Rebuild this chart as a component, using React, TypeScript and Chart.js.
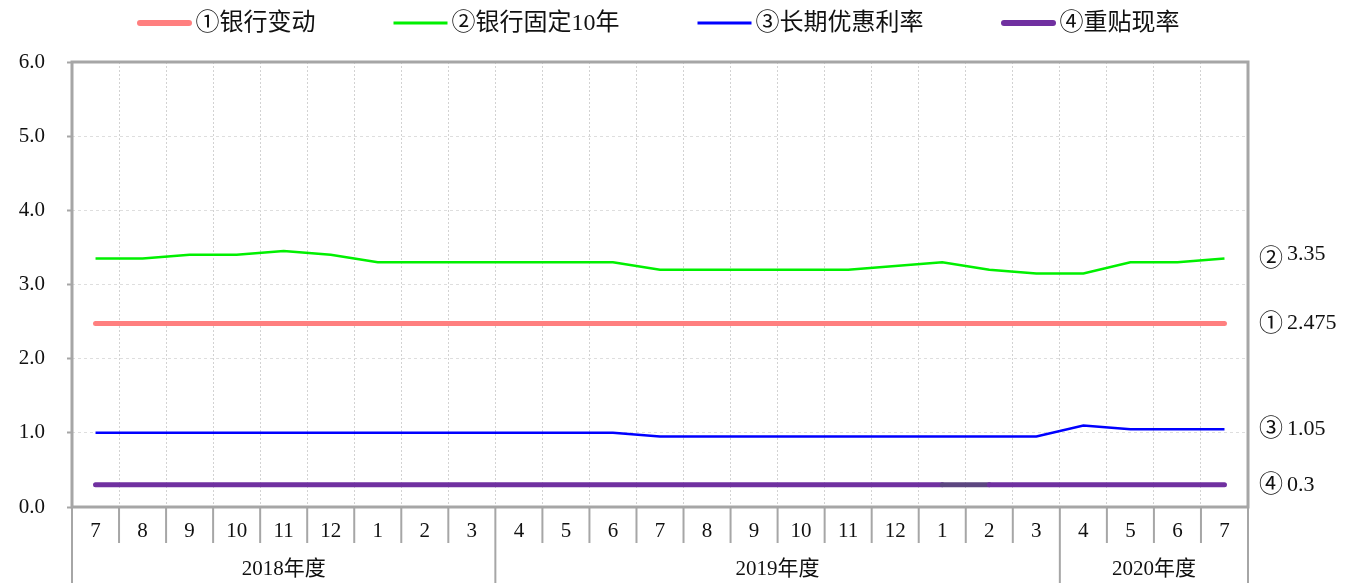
import React, { useEffect, useRef } from 'react';
import { Chart, registerables } from 'chart.js';

Chart.register(...registerables);

// ---- data ----
const months = ['7', '8', '9', '10', '11', '12', '1', '2', '3', '4', '5', '6', '7', '8', '9', '10', '11', '12', '1', '2', '3', '4', '5', '6', '7'];
const fiscalYears = ['2018年度', '2019年度', '2020年度'];
const fiscalYearSpans = [9, 12, 4];
const seriesNames = ['①银行变动', '②银行固定10年', '③长期优惠利率', '④重贴现率'];
const bankVariable = [2.475, 2.475, 2.475, 2.475, 2.475, 2.475, 2.475, 2.475, 2.475, 2.475, 2.475, 2.475, 2.475, 2.475, 2.475, 2.475, 2.475, 2.475, 2.475, 2.475, 2.475, 2.475, 2.475, 2.475, 2.475];
const bankFixed10 = [3.35, 3.35, 3.4, 3.4, 3.45, 3.4, 3.3, 3.3, 3.3, 3.3, 3.3, 3.3, 3.2, 3.2, 3.2, 3.2, 3.2, 3.25, 3.3, 3.2, 3.15, 3.15, 3.3, 3.3, 3.35];
const longPrime = [1.0, 1.0, 1.0, 1.0, 1.0, 1.0, 1.0, 1.0, 1.0, 1.0, 1.0, 1.0, 0.95, 0.95, 0.95, 0.95, 0.95, 0.95, 0.95, 0.95, 0.95, 1.1, 1.05, 1.05, 1.05];
const discountRate = [0.3, 0.3, 0.3, 0.3, 0.3, 0.3, 0.3, 0.3, 0.3, 0.3, 0.3, 0.3, 0.3, 0.3, 0.3, 0.3, 0.3, 0.3, 0.3, 0.3, 0.3, 0.3, 0.3, 0.3, 0.3];
const endMarkers = ['①', '②', '③', '④'];
const endValueLabels = ['2.475', '3.35', '1.05', '0.3'];
const yMin = 0;
const yMax = 6;
const yStep = 1;

const SERIF = "'Liberation Serif', 'Noto Sans CJK SC', serif";
const AXIS_GRAY = '#a6a6a6';

const legendPlugin = {
  id: 'customLegend',
  afterDraw(chart: any) {
    const ctx = chart.ctx;
    ctx.save();
    ctx.font = `24px ${SERIF}`;
    const lineLen = 54;
    const gapTxt = 4;
    const gapItem = 78;
    const items = chart.data.datasets.map((ds: any) => ({ ds, w: ctx.measureText(ds.label).width }));
    const total = items.reduce((a: number, it: any) => a + lineLen + gapTxt + it.w, 0) + gapItem * (items.length - 1);
    let x = (chart.width - total) / 2 - 15;
    const y = 23;
    for (const it of items) {
      const lw = it.ds.borderWidth;
      const round = lw > 3;
      ctx.strokeStyle = it.ds.borderColor;
      ctx.lineWidth = round ? lw + 1 : lw + 0.5;
      ctx.lineCap = round ? 'round' : 'butt';
      ctx.beginPath();
      ctx.moveTo(x + (round ? lw / 2 : 0), y);
      ctx.lineTo(x + lineLen - (round ? lw / 2 : 0), y);
      ctx.stroke();
      ctx.fillStyle = '#111';
      ctx.textBaseline = 'middle';
      ctx.textAlign = 'left';
      ctx.fillText(it.ds.label, x + lineLen + gapTxt, y + 1);
      x += lineLen + gapTxt + it.w + gapItem;
    }
    ctx.restore();
  },
};

const framePlugin = {
  id: 'frameAndGroups',
  afterDraw(chart: any) {
    const ctx = chart.ctx;
    const { left, right, top, bottom } = chart.chartArea;
    const xs = chart.scales.x;
    const ys = chart.scales.y;
    ctx.save();
    // plot frame
    ctx.strokeStyle = AXIS_GRAY;
    ctx.lineWidth = 3;
    ctx.strokeRect(left, top, right - left, bottom - top);
    // category separators
    const n = months.length;
    const groupEdges = new Set<number>();
    let acc = 0;
    groupEdges.add(0);
    fiscalYearSpans.forEach((s) => { acc += s; groupEdges.add(acc); });
    ctx.lineWidth = 2;
    for (let i = 0; i <= n; i++) {
      const x = xs.getPixelForValue(i - 0.5);
      const yEnd = groupEdges.has(i) ? chart.height : bottom + 36;
      ctx.beginPath();
      ctx.moveTo(x, bottom);
      ctx.lineTo(x, yEnd);
      ctx.stroke();
    }
    // group labels
    ctx.fillStyle = '#111';
    ctx.font = `21px ${SERIF}`;
    ctx.textAlign = 'center';
    ctx.textBaseline = 'middle';
    let start = 0;
    fiscalYears.forEach((g, gi) => {
      const end = start + fiscalYearSpans[gi];
      const x0 = xs.getPixelForValue(start - 0.5);
      const x1 = xs.getPixelForValue(end - 0.5);
      ctx.fillText(g, (x0 + x1) / 2, bottom + 62);
      start = end;
    });
    // end labels
    ctx.textAlign = 'left';
    chart.data.datasets.forEach((ds: any, i: number) => {
      const v = ds.data[ds.data.length - 1];
      const y = ys.getPixelForValue(v);
      ctx.font = `24px ${SERIF}`;
      const mx = right + 11;
      ctx.fillText(endMarkers[i], mx, y + 1);
      const mw = ctx.measureText(endMarkers[i]).width;
      ctx.font = `22px ${SERIF}`;
      ctx.fillText(endValueLabels[i], mx + mw + 4, i === 1 ? y - 4 : y);
    });
    ctx.restore();
  },
};

export default function App() {
  const canvasRef = useRef<HTMLCanvasElement | null>(null);

  useEffect(() => {
    if (!canvasRef.current) return;
    const chart = new Chart(canvasRef.current, {
      type: 'line',
      data: {
        labels: months,
        datasets: [
          {
            label: seriesNames[0],
            data: bankVariable,
            borderColor: '#ff7f7f',
            backgroundColor: '#ff7f7f',
            borderWidth: 5,
            borderCapStyle: 'round',
            pointRadius: 0,
            tension: 0,
            order: 2,
          },
          {
            label: seriesNames[1],
            data: bankFixed10,
            borderColor: '#00f000',
            backgroundColor: '#00f000',
            borderWidth: 2.5,
            pointRadius: 0,
            tension: 0,
            order: 1,
          },
          {
            label: seriesNames[2],
            data: longPrime,
            borderColor: '#0000ff',
            backgroundColor: '#0000ff',
            borderWidth: 2.5,
            pointRadius: 0,
            tension: 0,
            order: 1,
          },
          {
            label: seriesNames[3],
            data: discountRate,
            borderColor: '#7030a0',
            backgroundColor: '#7030a0',
            borderWidth: 5,
            borderCapStyle: 'round',
            pointRadius: 0,
            tension: 0,
            order: 2,
            segment: {
              borderColor: (c: any) => (c.p0DataIndex === 18 ? '#5c4680' : undefined),
            },
          },
        ] as any,
      },
      options: {
        responsive: false,
        maintainAspectRatio: false,
        animation: false,
        layout: { padding: { top: 62, right: 99, left: 0, bottom: 0 } },
        plugins: {
          legend: { display: false },
          tooltip: { enabled: false },
          title: { display: false },
        },
        scales: {
          x: {
            type: 'category',
            offset: true,
            afterFit: (s: any) => { s.height = 76; },
            grid: {
              offset: true,
              color: '#d2d2d2',
              lineWidth: 1,
              drawTicks: false,
            },
            border: { display: false, dash: [2, 2] },
            ticks: {
              color: '#111',
              font: { family: SERIF, size: 21 },
              padding: 12,
              maxRotation: 0,
              autoSkip: false,
            },
          },
          y: {
            min: yMin,
            max: yMax,
            afterFit: (s: any) => { s.width = 72; },
            grid: {
              color: '#dedede',
              lineWidth: 1,
              drawTicks: true,
              tickLength: 5,
              tickColor: AXIS_GRAY,
              tickWidth: 2,
            },
            border: { display: false, dash: [3, 3] },
            ticks: {
              stepSize: yStep,
              color: '#111',
              font: { family: SERIF, size: 21 },
              padding: 22,
              callback: (v: any) => Number(v).toFixed(1),
            },
          },
        },
      },
      plugins: [legendPlugin, framePlugin],
    } as any);
    return () => chart.destroy();
  }, []);

  return (
    <div style={{ position: 'absolute', left: 0, top: 0, width: 1347, height: 583, background: '#fff' }}>
      <canvas ref={canvasRef} width={1347} height={583} />
    </div>
  );
}
